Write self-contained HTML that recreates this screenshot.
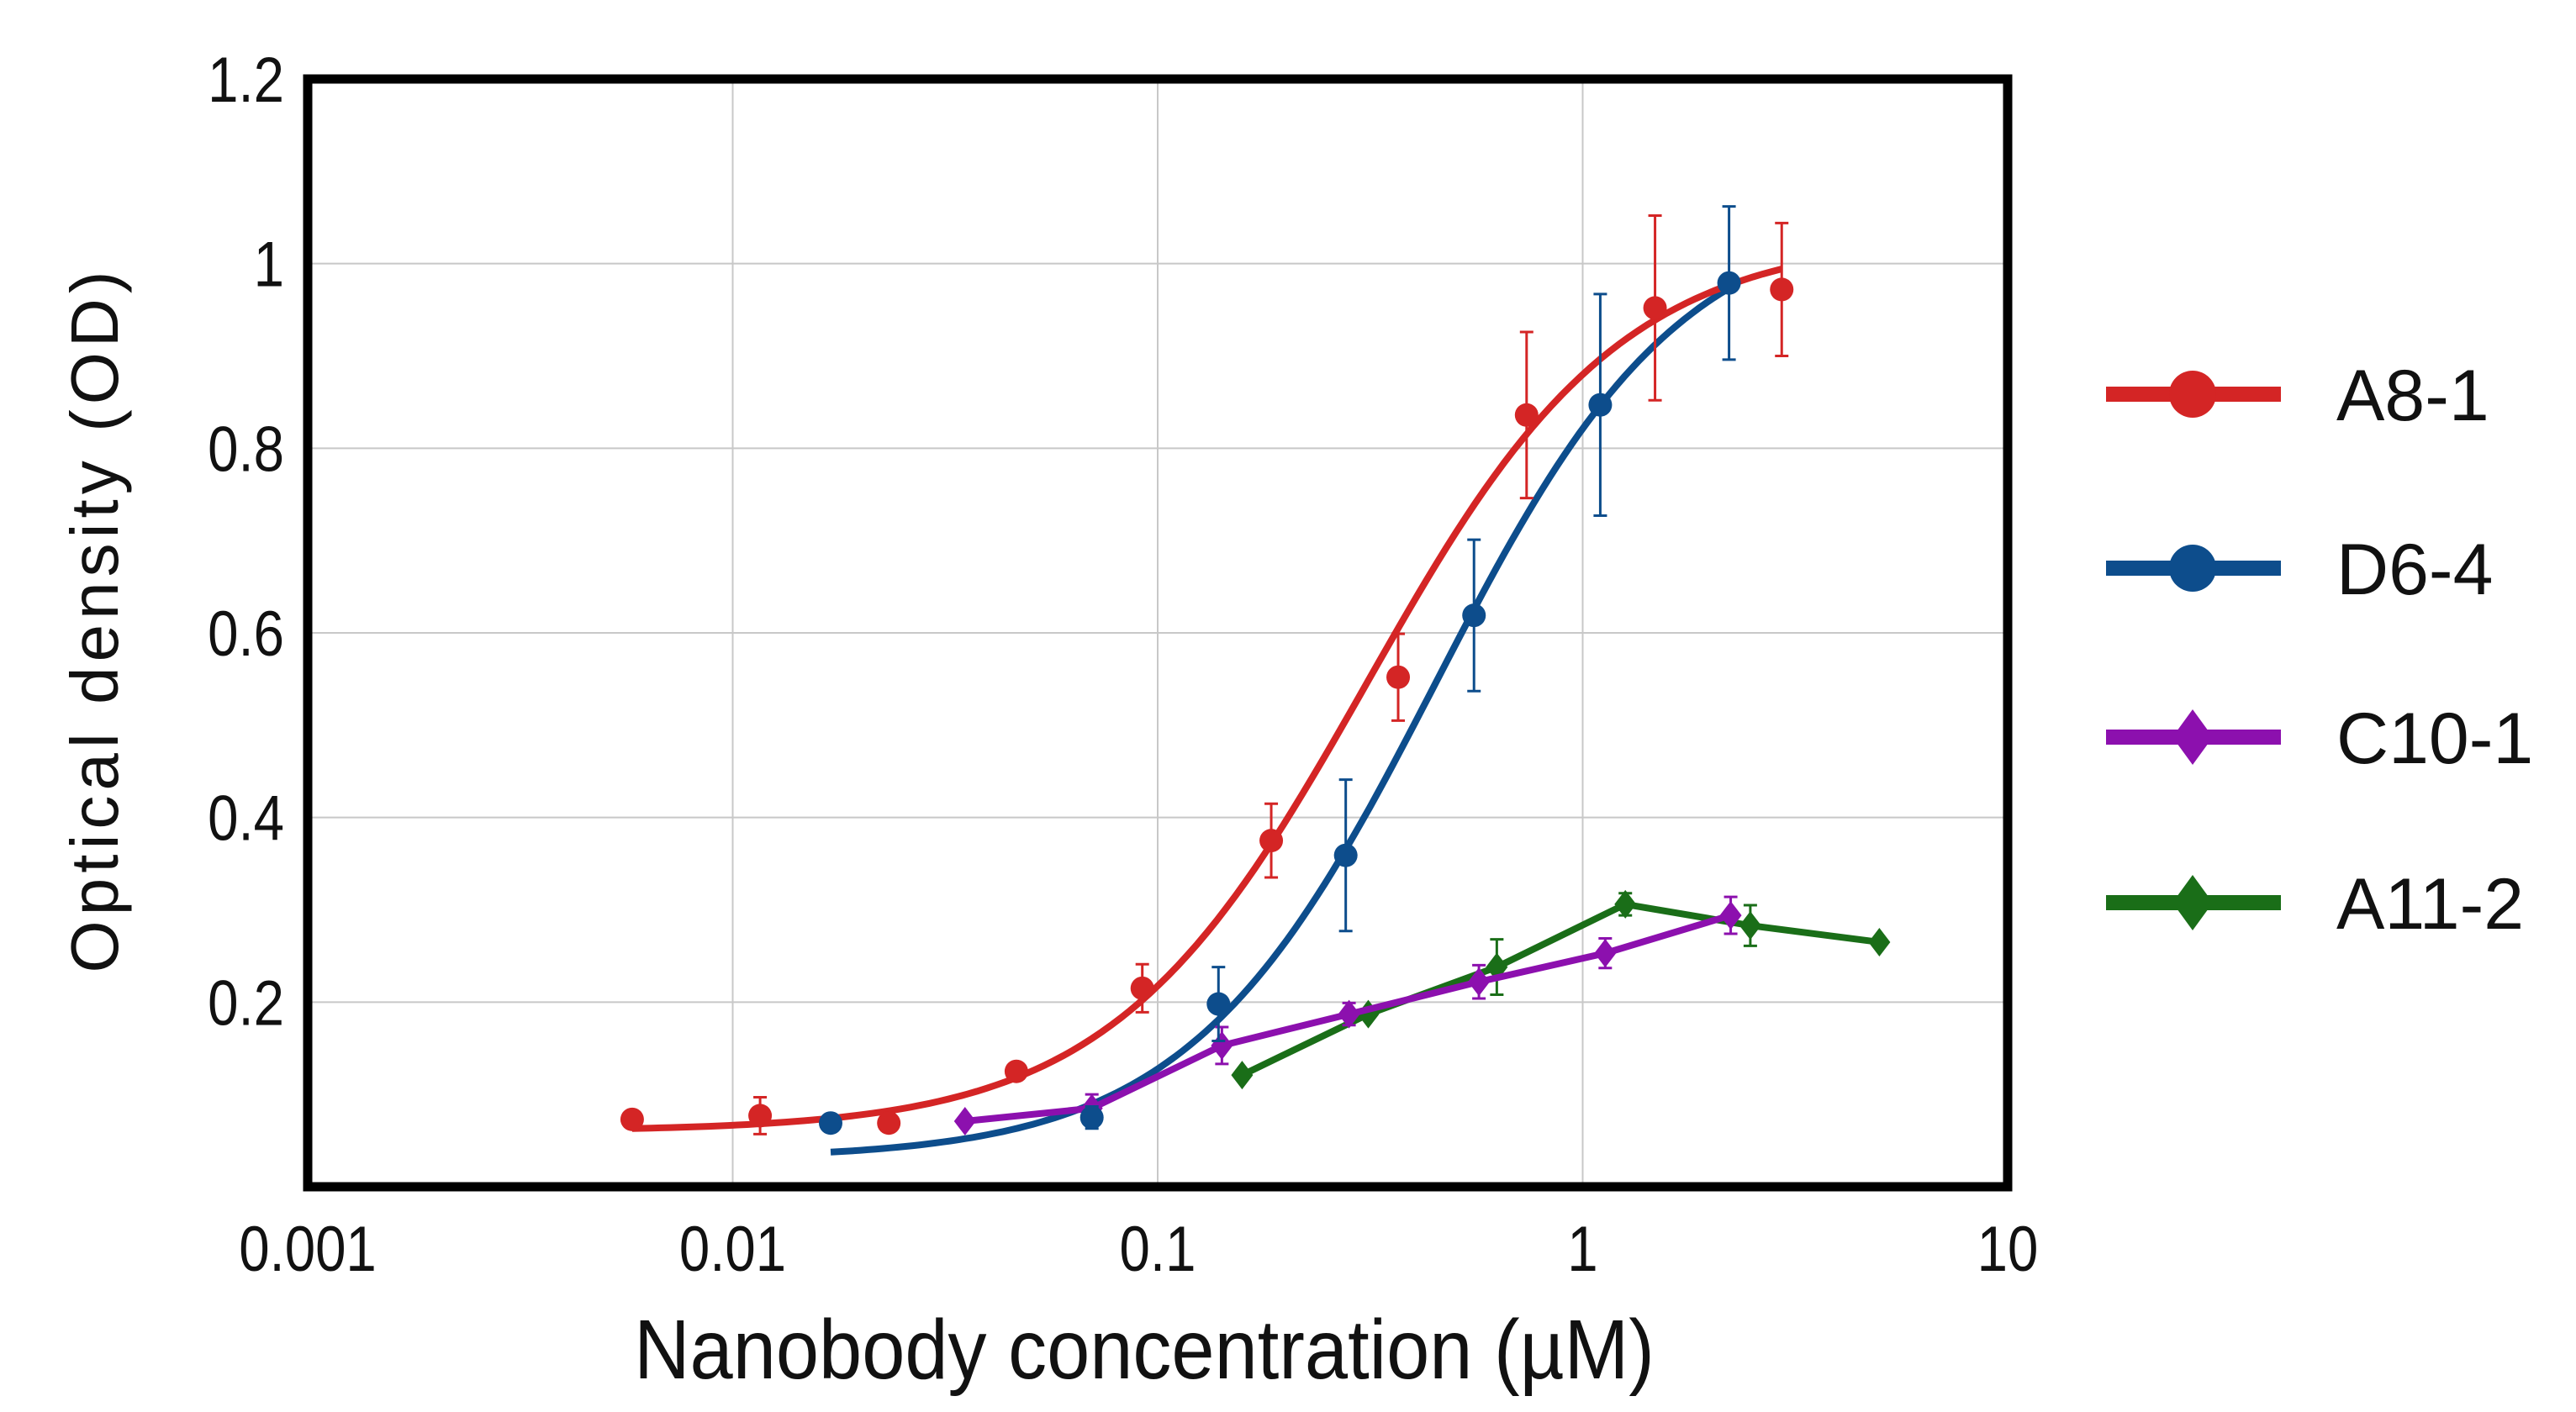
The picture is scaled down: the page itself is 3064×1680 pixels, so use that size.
<!DOCTYPE html>
<html><head><meta charset="utf-8"><style>
html,body{margin:0;padding:0;background:#fff;}
svg{display:block;font-family:"Liberation Sans",sans-serif;}
</style></head><body>
<svg id="chart" width="3064" height="1680" viewBox="0 0 3064 1680" xmlns="http://www.w3.org/2000/svg">
<g id="grid"></g>
<g id="series"></g>
<rect x="366" y="94" width="2022" height="1318" fill="none" stroke="#000" stroke-width="11"/>
<g id="ticks" font-size="76" fill="#111"></g>
<text id="xtitle" x="1361" y="1640" font-size="100" text-anchor="middle" fill="#111">Nanobody concentration (µM)</text>
<text id="ytitle" transform="translate(140,740) rotate(-90)" font-size="80" text-anchor="middle" fill="#111" textLength="835" lengthAdjust="spacing">Optical density (OD)</text>
<g id="legend"></g>
</svg>
<script>
const xTicks=[0.001,0.01,0.1,1,10];
const xTickLabels=["0.001","0.01","0.1","1","10"];
const yTicks=[0.2,0.4,0.6,0.8,1,1.2];
const yTickLabels=["0.2","0.4","0.6","0.8","1","1.2"];
const seriesNames=["A8-1","D6-4","C10-1","A11-2"];
const a8x=[0.0058,0.0116,0.0233,0.0465,0.092,0.185,0.368,0.738,1.48,2.94];
const a8y=[0.073,0.077,0.069,0.125,0.215,0.375,0.552,0.836,0.952,0.972];
const a8e=[0,0.02,0,0,0.026,0.04,0.047,0.09,0.1,0.072];
const d6x=[0.017,0.070,0.139,0.277,0.555,1.10,2.21];
const d6y=[0.069,0.075,0.198,0.359,0.619,0.847,0.979];
const d6e=[0,0.012,0.04,0.082,0.082,0.12,0.083];
const c10x=[0.0352,0.070,0.1416,0.282,0.570,1.13,2.23];
const c10y=[0.071,0.085,0.153,0.187,0.222,0.253,0.294];
const c10e=[0,0.015,0.02,0.012,0.018,0.016,0.02];
const a11x=[0.158,0.313,0.628,1.26,2.48,4.99];
const a11y=[0.121,0.187,0.238,0.306,0.283,0.265];
const a11e=[0,0,0.03,0.012,0.022,0];
// 4PL fit params: bottom, top, EC50, hill, xmin, xmax
const a8fit=[0.06,1.03,0.31,1.45,0.0058,2.94];
const d6fit=[0.03,1.06,0.45,1.5,0.017,2.21];

const NS="http://www.w3.org/2000/svg";
const L=366,R=2388,T=94,B=1412;
function sx(v){return L+(Math.log10(v)+3)/4*(R-L);}
function sy(v){return B-v/1.2*(B-T);}
function mk(tag,attrs,parent){const e=document.createElementNS(NS,tag);for(const k in attrs)e.setAttribute(k,attrs[k]);parent.appendChild(e);return e;}
function condense(t,f){const w=t.getComputedTextLength();t.setAttribute('textLength',(w*f).toFixed(1));t.setAttribute('lengthAdjust','spacingAndGlyphs');}
const grid=document.getElementById('grid'),ser=document.getElementById('series'),tk=document.getElementById('ticks'),lg=document.getElementById('legend');
xTicks.forEach((v,i)=>{
  const g=mk('line',{x1:sx(v),x2:sx(v),y1:T,y2:B,stroke:'#c8c8c8','stroke-width':2},grid);
  
  
  const t=mk('text',{x:sx(v),y:1512,'text-anchor':'middle'},tk);t.textContent=xTickLabels[i];
  
  
  condense(t,0.86);
});
yTicks.forEach((v,i)=>{
  const g=mk('line',{x1:L,x2:R,y1:sy(v),y2:sy(v),stroke:'#c8c8c8','stroke-width':2},grid);
  
  
  const t=mk('text',{x:338,y:sy(v)+27,'text-anchor':'end'},tk);t.textContent=yTickLabels[i];
  
  
  condense(t,0.86);
});
condense(document.getElementById('xtitle'),0.92);
function fitPath(p){let d='';const n=120;for(let i=0;i<=n;i++){const lx=Math.log10(p[4])+(Math.log10(p[5])-Math.log10(p[4]))*i/n;const x=Math.pow(10,lx);const r=Math.pow(x/p[2],p[3]);const y=p[0]+(p[1]-p[0])*r/(1+r);d+=(i?'L':'M')+sx(x).toFixed(1)+' '+sy(y).toFixed(1);}return d;}
function errBars(xs,ys,es,color,name){xs.forEach((x,i)=>{if(!es[i])return;const X=sx(x),y1=sy(ys[i]-es[i]),y2=sy(ys[i]+es[i]);
  const p=mk('path',{d:`M${X} ${y1}V${y2}M${X-8} ${y1}H${X+8}M${X-8} ${y2}H${X+8}`,stroke:color,'stroke-width':3,fill:'none'},ser);
  
  });}
function circles(xs,ys,color,name){xs.forEach((x,i)=>{const c=mk('circle',{cx:sx(x),cy:sy(ys[i]),r:14,fill:color},ser);
  
  });}
function diamonds(xs,ys,color,name){xs.forEach((x,i)=>{const X=sx(x),Y=sy(ys[i]);const c=mk('path',{d:`M${X} ${Y-17}L${X+13} ${Y}L${X} ${Y+17}L${X-13} ${Y}Z`,fill:color},ser);
  
  });}
function polyline(xs,ys,color,name){const p=mk('path',{d:xs.map((x,i)=>(i?'L':'M')+sx(x)+' '+sy(ys[i])).join(''),stroke:color,'stroke-width':8,fill:'none','stroke-linejoin':'round'},ser);
  
  }
const RED='#d42525',BLUE='#0d4d8c',PUR='#8c10ae',GRN='#1a6e18';
let f=mk('path',{d:fitPath(d6fit),stroke:BLUE,'stroke-width':8,fill:'none'},ser);


f=mk('path',{d:fitPath(a8fit),stroke:RED,'stroke-width':8,fill:'none'},ser);


polyline(a11x,a11y,GRN,'a11-2');errBars(a11x,a11y,a11e,GRN,'a11-2');diamonds(a11x,a11y,GRN,'a11-2');
polyline(c10x,c10y,PUR,'c10-1');errBars(c10x,c10y,c10e,PUR,'c10-1');diamonds(c10x,c10y,PUR,'c10-1');
errBars(d6x,d6y,d6e,BLUE,'d6-4');circles(d6x,d6y,BLUE,'d6-4');
errBars(a8x,a8y,a8e,RED,'a8-1');circles(a8x,a8y,RED,'a8-1');
const legY=[469,676,877,1074],legC=[RED,BLUE,PUR,GRN];
seriesNames.forEach((n,i)=>{
  const y=legY[i];
  const l=mk('line',{x1:2505,x2:2713,y1:y,y2:y,stroke:legC[i],'stroke-width':18},lg);
  
  
  let m;
  if(i<2)m=mk('circle',{cx:2608,cy:y,r:28,fill:legC[i]},lg);
  else m=mk('path',{d:`M2608 ${y-33}L2632 ${y}L2608 ${y+33}L2584 ${y}Z`,fill:legC[i]},lg);
  
  
  const t=mk('text',{x:2779,y:y+31,'font-size':86,fill:'#111'},lg);t.textContent=n;
  
  
});
</script>
</body></html>
